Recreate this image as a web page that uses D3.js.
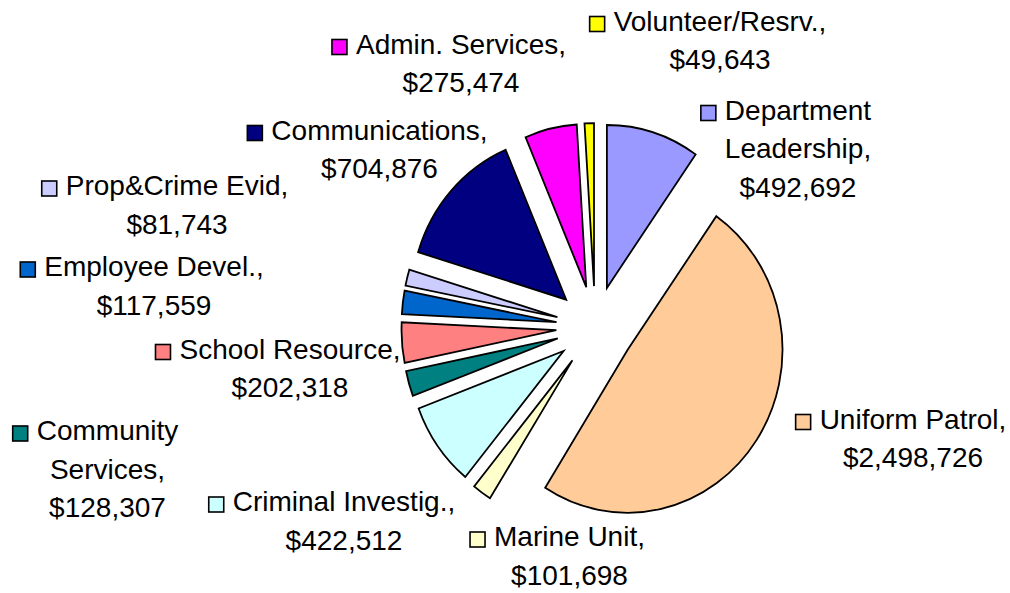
<!DOCTYPE html>
<html>
<head>
<meta charset="utf-8">
<script src="https://cdn.jsdelivr.net/npm/d3@7"></script>
<style>
  html, body { margin: 0; padding: 0; background: #ffffff; }
  svg { display: block; }
  text { font-family: "Liberation Sans", Arial, sans-serif; fill: #000; }
</style>
</head>
<body>
<svg id="chart" width="1010" height="593"></svg>
<script>
// Police department budget by division (clockwise from 12 o'clock)
const categories = [
  "Department Leadership", "Uniform Patrol", "Marine Unit", "Criminal Investig.",
  "Community Services", "School Resource", "Employee Devel.", "Prop&Crime Evid",
  "Communications", "Admin. Services", "Volunteer/Resrv."
];
const budget = [
  492692, 2498726, 101698, 422512,
  128307, 202318, 117559, 81743,
  704876, 275474, 49643
];
const sliceColors = [
  "#9999FF", "#FFCC99", "#FFFFCC", "#CCFFFF",
  "#008080", "#FF8080", "#0066CC", "#CCCCFF",
  "#000080", "#FF00FF", "#FFFF00"
];
// Label placement: centre x of the text block, baseline of its first line,
// and whether the category name wraps onto two lines.
const labelAnchors = [
  { x: 798, y: 119.5, wrap: true },
  { x: 913, y: 428.5, wrap: false },
  { x: 569.5, y: 546, wrap: false },
  { x: 344, y: 511, wrap: false },
  { x: 107.5, y: 440, wrap: true },
  { x: 290, y: 358.5, wrap: false },
  { x: 154, y: 276, wrap: false },
  { x: 177, y: 195, wrap: false },
  { x: 379.5, y: 139.5, wrap: false },
  { x: 461, y: 53.5, wrap: false },
  { x: 720, y: 30.5, wrap: false }
];

const svg = d3.select("#chart");
const radius = 163, explode = 41;
const center = [595.2, 327.1];
const fmt = d3.format("$,");

const data = categories.map((c, i) => ({ name: c, value: budget[i], color: sliceColors[i], anchor: labelAnchors[i] }));

const pie = d3.pie().value(d => d.value).sort(null).startAngle(0).endAngle(2 * Math.PI);
const arc = d3.arc().innerRadius(0).outerRadius(radius);
const arcs = pie(data);

const pieG = svg.append("g")
  .attr("transform", `translate(${center[0]},${center[1]}) scale(0.95,1)`);

pieG.selectAll("path.slice")
  .data(arcs)
  .join("path")
  .attr("class", "slice")
  .attr("d", arc)
  .attr("transform", d => {
    const mid = (d.startAngle + d.endAngle) / 2;
    return `translate(${Math.sin(mid) * explode},${-Math.cos(mid) * explode})`;
  })
  .attr("fill", d => d.data.color)
  .attr("stroke", "#000")
  .attr("stroke-width", 1.8)
  .attr("stroke-linejoin", "miter")
  .attr("vector-effect", "non-scaling-stroke");

// Data labels with legend keys
const lineGap = 38.7, keySize = 15, keyGap = 9;
const labels = svg.append("g").attr("class", "labels");

data.forEach(d => {
  const a = d.anchor;
  let lines;
  if (a.wrap) {
    const sp = d.name.indexOf(" ");
    lines = [d.name.slice(0, sp), d.name.slice(sp + 1) + ","];
  } else {
    lines = [d.name + ","];
  }
  lines.push(fmt(d.value));

  const g = labels.append("g");
  const texts = g.selectAll("text")
    .data(lines)
    .join("text")
    .attr("x", a.x)
    .attr("y", (t, i) => a.y + i * lineGap)
    .attr("text-anchor", "middle")
    .style("font-size", "28px")
    .text(t => t);

  const firstLen = texts.nodes()[0].getComputedTextLength();
  const left = a.x - firstLen / 2;
  g.append("rect")
    .attr("x", left - keyGap - keySize)
    .attr("y", a.y - 14)
    .attr("width", keySize)
    .attr("height", keySize)
    .attr("fill", d.color)
    .attr("stroke", "#000")
    .attr("stroke-width", 1.6);
});
</script>
</body>
</html>
